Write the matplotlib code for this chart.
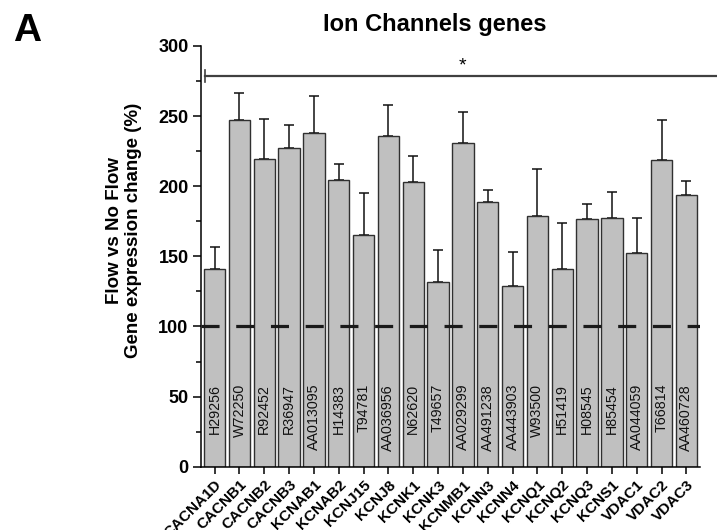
"""
Ion channel genes: flow vs no-flow expression change, bar chart with SEM.
"""
import matplotlib
matplotlib.use("Agg")
import matplotlib.pyplot as plt

plt.rcParams["font.family"] = ["Liberation Sans", "DejaVu Sans"]
plt.rcParams["lines.scale_dashes"] = False

genes = ["CACNA1D", "CACNB1", "CACNB2", "CACNB3", "KCNAB1", "KCNAB2", "KCNJ15",
         "KCNJ8", "KCNK1", "KCNK3", "KCNMB1", "KCNN3", "KCNN4", "KCNQ1", "KCNQ2",
         "KCNQ3", "KCNS1", "VDAC1", "VDAC2", "VDAC3"]
accessions = ["H29256", "W72250", "R92452", "R36947", "AA013095", "H14383", "T94781",
              "AA036956", "N62620", "T49657", "AA029299", "AA491238", "AA443903",
              "W93500", "H51419", "H08545", "H85454", "AA044059", "T66814", "AA460728"]
change = [141, 247, 219.5, 227.5, 238, 204.5, 165.5, 235.5, 203, 132,
          231, 188.5, 129, 179, 141, 176.5, 177, 152.5, 218.5, 194]
sem = [15.5, 19.5, 28.5, 16.5, 26, 11.5, 30, 22.5, 18.5, 22.5,
       22, 9, 24, 33, 32.5, 10.5, 19, 25, 29, 9.5]

fig = plt.figure(figsize=(7.17, 5.30), dpi=100)
ax = fig.add_axes([201 / 717, 1 - 466.7 / 530, 499 / 717, 420.7 / 530])

x = range(len(genes))
ax.bar(x, change, width=0.86, color="#c0c0c0", edgecolor="#303030", linewidth=1.0,
       zorder=2)
ax.errorbar(x, change, yerr=[[0] * len(sem), sem], fmt="none", ecolor="#111111",
            elinewidth=1.1, capsize=3.5, capthick=1.1, zorder=1)

# 100 % reference
ax.axhline(100, color="#1a1a1a", linewidth=2.3, dashes=(13, 12),
           solid_capstyle="butt", dash_capstyle="butt", zorder=3)

for i, acc in enumerate(accessions):
    ax.text(i, 59, acc, rotation=90, ha="center", va="top", fontsize=10.3,
            color="#111111", zorder=4)

ax.set_xlim(-0.55, 19.55)
ax.set_ylim(0, 300)
ax.set_yticks(range(0, 301, 50))
ax.set_yticks(range(25, 300, 50), minor=True)
ax.set_xticks(list(x))
ax.set_xticklabels(genes, rotation=45, ha="right", va="top", rotation_mode="anchor",
                   fontsize=11, fontweight="bold")
ax.tick_params(axis="y", which="major", length=6, width=1.1, labelsize=13, pad=3)
ax.tick_params(axis="y", which="minor", length=3.5, width=1.1)
ax.tick_params(axis="x", length=5, width=1.1, pad=3)
for lbl in ax.get_yticklabels():
    lbl.set_fontweight("bold")
ax.spines["top"].set_visible(False)
ax.spines["right"].set_visible(False)
ax.spines["left"].set_linewidth(1.1)
ax.spines["bottom"].set_linewidth(1.1)

# significance bracket
ax.plot([-0.4, 21.5], [278.5, 278.5], color="#404040", linewidth=1.6, clip_on=False)
ax.plot([-0.4, -0.4], [274, 283], color="#404040", linewidth=1.2, clip_on=False)
ax.text(10, 280, "*", ha="center", va="bottom", fontsize=14, clip_on=False)

fig.text(124 / 717, 1 - 230 / 530, "Flow vs No Flow\nGene expression change (%)",
         rotation=90, ha="center", va="center", fontsize=13.5, fontweight="bold",
         multialignment="center")
fig.text(435 / 717, 1 - 25 / 530, "Ion Channels genes", ha="center", va="center",
         fontsize=17, fontweight="bold")
fig.text(27 / 717, 1 - 31 / 530, "A", ha="center", va="center", fontsize=28,
         fontweight="bold")

fig.savefig("out.png", dpi=100)
